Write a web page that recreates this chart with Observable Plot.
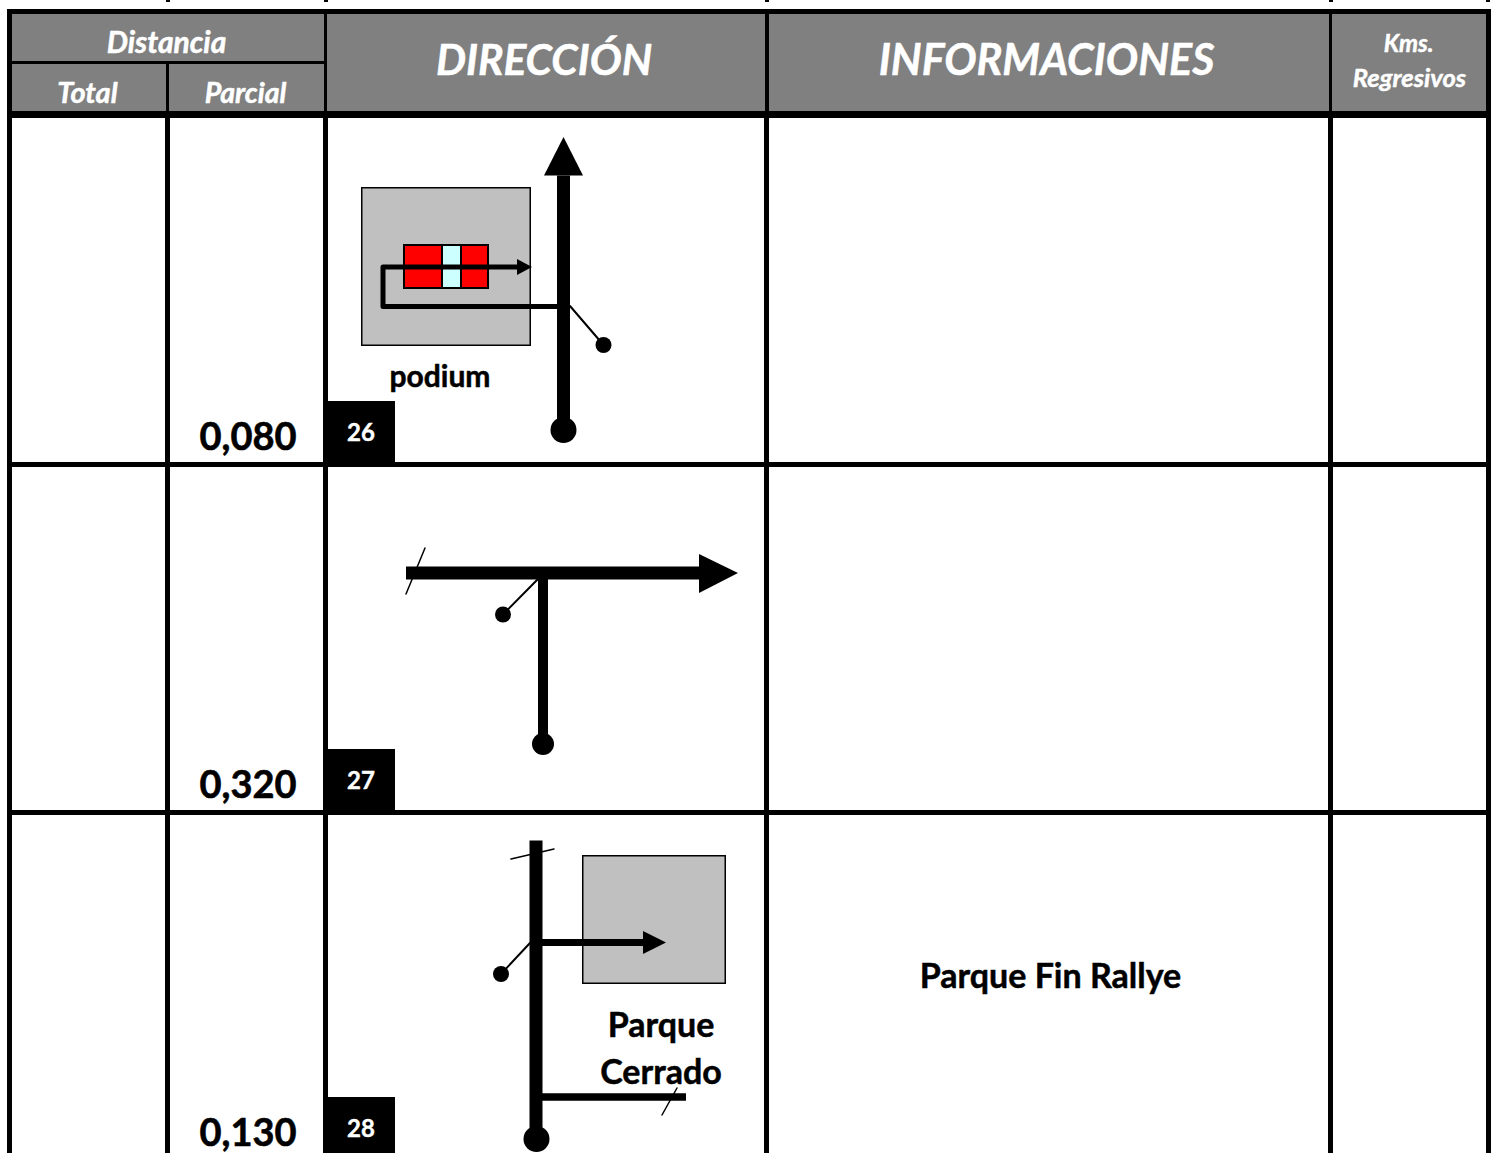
<!DOCTYPE html>
<html>
<head>
<meta charset="utf-8">
<script src="https://cdn.jsdelivr.net/npm/d3@7"></script>
<script src="https://cdn.jsdelivr.net/npm/@observablehq/plot@0.6"></script>
<style>
html,body{margin:0;padding:0;background:#fff;overflow:hidden}
svg{display:block}
</style>
</head>
<body>
<div id="chart"></div>
<script>
const FONT = "Lato, 'Open Sans', sans-serif";

// Black table rules: [x1, x2, y1, y2]
const blackRules = [
  [7,1491,9,118],
  [7,12,118,1153],[165,170,118,1153],[323,328,118,1153],[764,769,118,1153],[1328,1333,118,1153],[1486,1491,118,1153],
  [7,1491,462,467],[7,1491,810,815],
  [166,170,0,2],[324,328,0,2],[765,769,0,2],[1329,1333,0,2],[1486,1490,0,2]
];
const headerCells = [
  [12,324,14,61],[12,166,64,111],[169,324,64,111],[327,765,14,111],[769,1329,14,111],[1332,1486,14,111]
];
const stepBoxes = [[323,395,401,462],[323,395,749,810],[323,395,1097,1153]];
const greySquares = [[361.75,530.25,187.75,345.25],[582.75,725.25,855.75,983.25]];
const redBlocks = [[404,488,245,288]];
const cyanBlocks = [[442,461,245,288]];

const headerLabels = [
  ["Distancia",166,43,30],["Total",87,93,29],["Parcial",245,93,28.5],
  ["DIRECCIÓN",543.5,61,42.5],["INFORMACIONES",1046,61,43],
  ["Kms.",1408,44,24],["Regresivos",1409,78,25.5]
];
const partials = [["0,080",247.5,437],["0,320",247.5,785],["0,130",247.5,1133]];
const stepNumbers = [["26",360.5,433],["27",360.5,781],["28",360.5,1129]];
const notes = [
  ["podium",439.5,377,30],["Parque",660.5,1026,34],["Cerrado",660.5,1073,34],["Parque Fin Rallye",1050,977,34]
];

// Road strokes: [width, [x,y], [x,y], ...]
const roads = [
  [13,[563,175],[563,430]],
  [5,[563,306],[382.5,306],[382.5,266.5],[517,266.5]],
  [13,[405.5,572.5],[700,572.5]],
  [10,[542.5,573],[542.5,744]],
  [13,[535.5,840],[535.5,1139]],
  [7,[536,942],[644,942]],
  [7.5,[536,1096.5],[685.5,1096.5]]
];
const leaders = [
  [[569.5,305.5],[603,344.5]],[[537.5,578.5],[502.5,614]],[[529.5,942.5],[500.5,973.5]]
];
const crossTicks = [
  [[424.5,547.5],[405.5,593.5]],[[510.5,858.5],[553.5,848.5]],[[676.5,1087.5],[661.5,1114.5]]
];
const arrowHeads = [
  [[563,136.5],[543.5,175],[582.5,175]],
  [[531.5,266.5],[516.5,258.5],[516.5,274.5]],
  [[737.5,572.5],[698.5,553.5],[698.5,592.5]],
  [[665.5,942],[642.5,930.5],[642.5,953.5]]
];
const bigDots = [[563,429.5,13],[542.5,743.5,11],[536,1138.5,13]];
const smallDots = [[603,344.5,8],[502.5,614,8],[500.5,973.5,8]];

const rectOf = (rows, opts) => Plot.rect(rows, {x1:d=>d[0], x2:d=>d[1], y1:d=>d[2], y2:d=>d[3], ...opts});
const textOf = (rows, opts) => Plot.text(rows, {x:d=>d[1], y:d=>d[2], text:d=>d[0], fontFamily:FONT, fontWeight:"bold", textAnchor:"middle", lineAnchor:"middle", ...opts});
const pathRows = (list) => list.flatMap((p,i)=>p.map(c=>({id:i,x:c[0],y:c[1]})));

const marks = [
  rectOf(blackRules,{fill:"#000"}),
  rectOf(headerCells,{fill:"#808080"}),
  rectOf(stepBoxes,{fill:"#000"}),
  rectOf(greySquares,{fill:"#c0c0c0",stroke:"#000",strokeWidth:1.5}),
  rectOf(redBlocks,{fill:"#ff0000",stroke:"#000",strokeWidth:2}),
  rectOf(cyanBlocks,{fill:"#ccffff",stroke:"#000",strokeWidth:2}),
  ...roads.map(r=>Plot.line(r.slice(1).map(c=>({x:c[0],y:c[1]})),{x:"x",y:"y",stroke:"#000",strokeWidth:r[0],strokeLinejoin:"round",strokeLinecap:"butt"})),
  Plot.line(pathRows(leaders),{x:"x",y:"y",z:"id",stroke:"#000",strokeWidth:2}),
  Plot.line(pathRows(crossTicks),{x:"x",y:"y",z:"id",stroke:"#000",strokeWidth:1.5}),
  Plot.line(pathRows(arrowHeads),{x:"x",y:"y",z:"id",fill:"#000",stroke:null}),
  ...bigDots.concat(smallDots).map(d=>Plot.dot([d],{x:v=>v[0],y:v=>v[1],r:d[2],fill:"#000",stroke:null})),
  ...headerLabels.map(d=>textOf([d],{fill:"#fff",stroke:"#fff",strokeWidth:0.5,fontStyle:"italic",fontSize:d[3]})),
  textOf(partials,{fill:"#000",stroke:"#000",strokeWidth:0.6,fontSize:38}),
  textOf(stepNumbers,{fill:"#fff",stroke:"#fff",strokeWidth:0.4,fontSize:24}),
  ...notes.map(d=>textOf([d],{fill:"#000",stroke:"#000",strokeWidth:0.5,fontSize:d[3]}))
];

const chart = Plot.plot({
  width:1497, height:1153,
  margin:0,
  style:{background:"#fff"},
  x:{domain:[0,1497],range:[0,1497],axis:null},
  y:{domain:[0,1153],range:[0,1153],axis:null},
  marks
});
document.getElementById("chart").append(chart);
</script>
</body>
</html>
